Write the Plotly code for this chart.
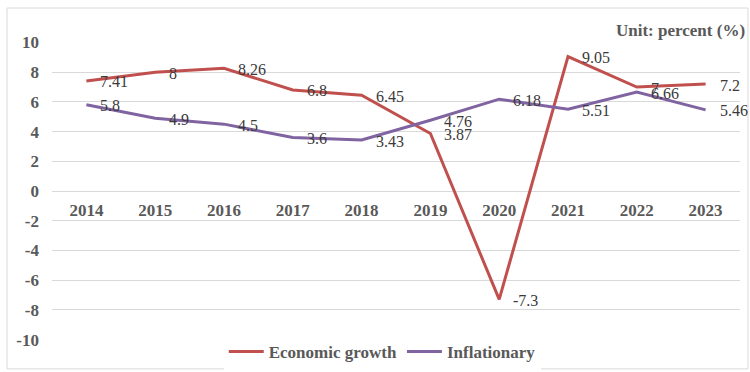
import plotly.graph_objects as go

years = ["2014", "2015", "2016", "2017", "2018", "2019", "2020", "2021", "2022", "2023"]
growth = [7.41, 8, 8.26, 6.8, 6.45, 3.87, -7.3, 9.05, 7, 7.2]
inflation = [5.8, 4.9, 4.5, 3.6, 3.43, 4.76, 6.18, 5.51, 6.66, 5.46]
growth_labels = ["7.41", "8", "8.26", "6.8", "6.45", "3.87", "-7.3", "9.05", "7", "7.2"]
inflation_labels = ["5.8", "4.9", "4.5", "3.6", "3.43", "4.76", "6.18", "5.51", "6.66", "5.46"]
y_ticks = [-10, -8, -6, -4, -2, 0, 2, 4, 6, 8, 10]
y_tick_text = ["-10", "-8", "-6", "-4", "-2", "0", "2", "4", "6", "8", "10"]

RED = "#C0504D"
PURPLE = "#8064A2"
GRID = "#D9D9D9"
TXT = "#595959"
LBL = "#3A3A3A"
FONT = "Liberation Serif"

fig = go.Figure()
fig.add_trace(go.Scatter(x=years, y=growth, mode="lines", name="Economic growth",
                         line=dict(color=RED, width=3)))
fig.add_trace(go.Scatter(x=years, y=inflation, mode="lines", name="Inflationary",
                         line=dict(color=PURPLE, width=3)))

annotations = []
for ys, ls in ((growth, growth_labels), (inflation, inflation_labels)):
    for i, (y, l) in enumerate(zip(ys, ls)):
        annotations.append(dict(x=i, y=y, xref="x", yref="y", text=l, showarrow=False,
                                xanchor="left", yanchor="middle", xshift=12, yshift=-1,
                                font=dict(family=FONT, size=16, color=LBL)))
annotations.append(dict(xref="paper", yref="paper", x=1.01, y=1.04, text="Unit: percent (%)",
                        showarrow=False, xanchor="right", yanchor="middle",
                        font=dict(family=FONT, size=17, color=TXT, weight="bold")))
fig.update_layout(annotations=annotations)

fig.add_shape(type="rect", xref="paper", yref="paper", x0=-0.0654, x1=1.0116,
              y0=-0.097, y1=1.114, line=dict(color=GRID, width=1), layer="below")

fig.update_layout(
    width=750, height=372,
    margin=dict(l=52, r=10, t=42, b=32, autoexpand=False),
    paper_bgcolor="white", plot_bgcolor="white",
    font=dict(family=FONT, color=TXT),
    showlegend=True,
    legend=dict(orientation="h", x=0.48, xanchor="center", y=-0.04, yanchor="middle",
                font=dict(family=FONT, size=17, color=TXT, weight="bold"),
                itemwidth=35, tracegroupgap=0),
    xaxis=dict(type="category", range=[-0.5, 9.5], anchor="free", position=0.5,
               showgrid=False, showline=False, zeroline=False, ticks="",
               tickfont=dict(family=FONT, size=17, color=TXT, weight="bold"),
               ticklabelstandoff=7, automargin=False),
    yaxis=dict(range=[-10.03, 10.03], tickvals=y_ticks, ticktext=y_tick_text,
               showgrid=True, gridcolor=GRID,
               gridwidth=1, zeroline=True, zerolinecolor=GRID, zerolinewidth=1,
               showline=False, ticks="", automargin=False,
               tickfont=dict(family=FONT, size=17, color=TXT, weight="bold"),
               ticklabelstandoff=12),
)

fig.write_html("out.html")
